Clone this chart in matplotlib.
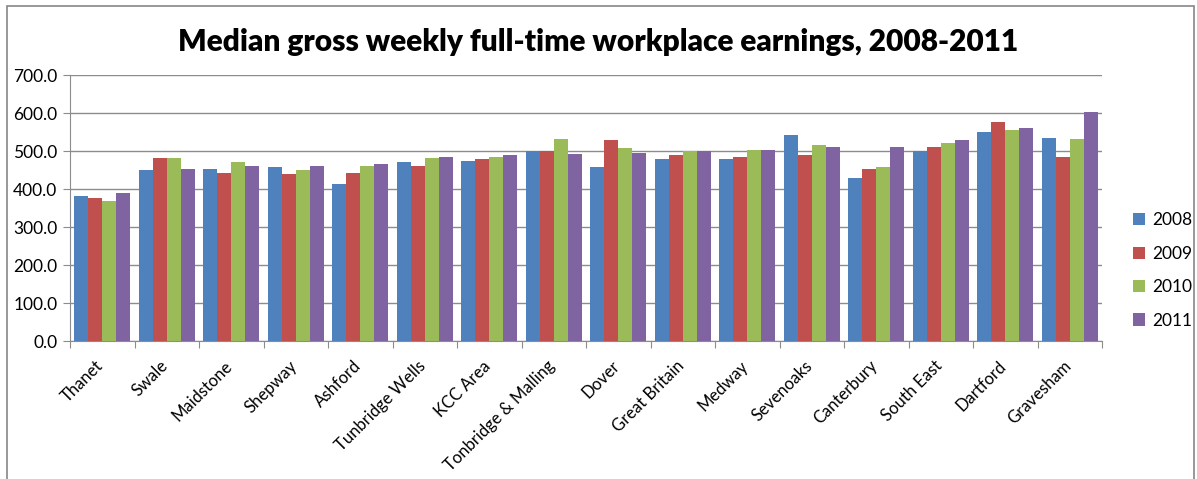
import numpy as np
import matplotlib
matplotlib.use("Agg")
import matplotlib.pyplot as plt
import matplotlib.transforms as mtransforms
from matplotlib.patches import Rectangle

plt.rcParams["font.family"] = ["Lato", "DejaVu Sans"]

# Data
areas = ["Thanet", "Swale", "Maidstone", "Shepway", "Ashford", "Tunbridge Wells",
         "KCC Area", "Tonbridge & Malling", "Dover", "Great Britain", "Medway",
         "Sevenoaks", "Canterbury", "South East", "Dartford", "Gravesham"]
years = ["2008", "2009", "2010", "2011"]
earn_2008 = [381.6, 450.0, 452.6, 458.0, 413.0, 471.0, 473.7, 500.0,
             458.0, 479.0, 479.0, 542.0, 429.0, 500.0, 550.0, 534.0]
earn_2009 = [376.0, 481.6, 442.0, 439.5, 442.0, 460.5, 479.0, 500.0,
             529.0, 489.5, 484.0, 489.5, 452.6, 510.5, 576.0, 484.0]
earn_2010 = [368.0, 481.6, 471.0, 450.0, 460.5, 481.6, 484.0, 531.6,
             508.0, 500.0, 502.6, 515.8, 458.0, 521.0, 555.0, 531.6]
earn_2011 = [389.5, 452.6, 460.5, 460.5, 466.0, 484.0, 489.5, 492.0,
             494.7, 500.0, 502.6, 510.5, 510.5, 529.0, 560.5, 602.6]
colors = ["#4F81BD", "#C0504D", "#9BBB59", "#8064A2"]

series = [earn_2008, earn_2009, earn_2010, earn_2011]

fig = plt.figure(figsize=(11.97, 4.79), dpi=100)
ax = fig.add_axes([70 / 1197, 1 - 341 / 479, (1102 - 70) / 1197, (341 - 75) / 479])

# outer chart-area border
fig.patches.append(Rectangle((7 / 1197, -0.1), (1194 - 7) / 1197, 1.1 - 6 / 479,
                             transform=fig.transFigure, fill=False,
                             edgecolor="#868686", linewidth=1.2))

x = np.arange(len(areas))
width = 0.217
for i, (vals, year) in enumerate(zip(series, years)):
    ax.bar(x + (i - 1.5) * width, vals, width, color=colors[i], label=year, zorder=3)

ax.set_xlim(-0.5, len(areas) - 0.5)
ax.set_ylim(0, 700)
ax.set_yticks(np.arange(0, 701, 100))
ax.set_yticklabels([f"{v:.1f}" for v in range(0, 701, 100)], fontsize=12.5)
ax.yaxis.grid(True, color="#8c8c8c", linewidth=1.0, zorder=0)
ax.tick_params(axis="y", length=5, color="#8c8c8c", pad=4)

ax.set_xticks(np.arange(-0.5, len(areas), 1.0), minor=False)
ax.set_xticklabels([])
ax.set_xticks(x, minor=True)
ax.set_xticklabels(areas, minor=True, rotation=45, ha="right",
                   rotation_mode="anchor", fontsize=12)
ax.tick_params(axis="x", which="major", length=5, color="#8c8c8c", direction="out")
ax.tick_params(axis="x", which="minor", length=0, pad=12)
shift = mtransforms.ScaledTranslation(-7 / 100, 0, fig.dpi_scale_trans)
for lbl in ax.get_xticklabels(minor=True):
    lbl.set_transform(lbl.get_transform() + shift)

for side in ["top", "right"]:
    ax.spines[side].set_visible(False)
for side in ["left", "bottom"]:
    ax.spines[side].set_color("#8c8c8c")

fig.text(0.5, 1 - 42 / 479, "Median gross weekly full-time workplace earnings, 2008-2011",
         ha="center", va="center", fontsize=21.5, fontweight="heavy")

ax.legend(loc="center left", bbox_to_anchor=(1.015, 0.265), frameon=False,
          fontsize=12.5, handlelength=0.7, handleheight=0.7, labelspacing=1.0,
          handletextpad=0.4)

fig.savefig("out.png", dpi=100)
